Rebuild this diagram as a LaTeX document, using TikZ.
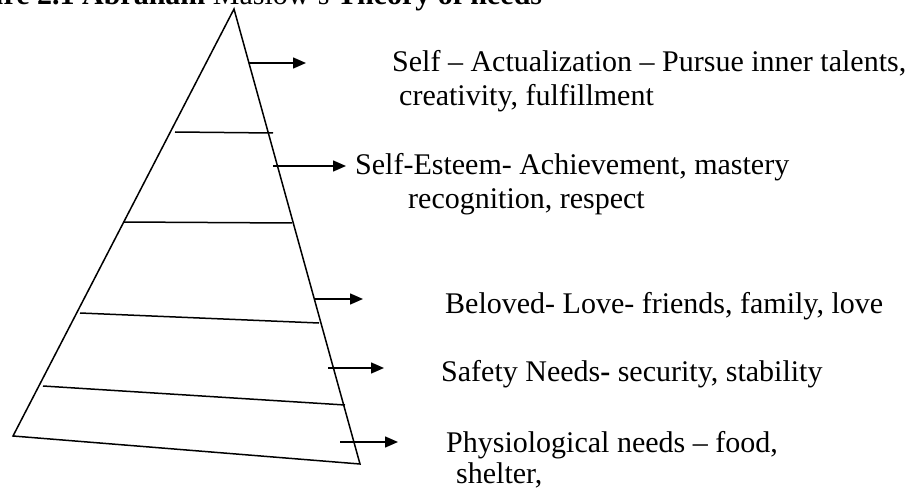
\documentclass[tikz,border=0pt]{standalone}
\usepackage{fontspec}
\setmainfont{Liberation Serif}
\usetikzlibrary{arrows.meta}

\begin{document}
\begin{tikzpicture}[x=1pt, y=-1pt,
	edge/.style={line width=1.5pt},
	pointer/.style={line width=1.5pt, -{Triangle[length=13pt,width=11pt]}},
	need/.style={anchor=base west, inner sep=0pt, font=\fontsize{30}{34}\selectfont}
]
	\useasboundingbox (0,0) rectangle (913,489);

	% Title (cut off at the top)
	\node[need] (title) at (-55,5) {\textbf{Figure 2.1 Abraham} Maslow's \textbf{Theory of needs}};

	% Pyramid
	\coordinate (apex) at (234,9);
	\coordinate (bl) at (13,436);
	\coordinate (br) at (360,464);
	\draw[edge] (bl) -- (apex) -- (br) -- cycle;

	% Tiers
	\coordinate (t1l) at (175,132);  \coordinate (t1r) at (273,133);
	\coordinate (t2l) at (123,222);  \coordinate (t2r) at (292,223);
	\coordinate (t3l) at (80,313);   \coordinate (t3r) at (319,323);
	\coordinate (t4l) at (43,386);   \coordinate (t4r) at (345,405);
	\foreach \i in {1,...,4}
		\draw[edge] (t\i l) -- (t\i r);

	% Arrows
	\coordinate (a1s) at (249,63);   \coordinate (a1e) at (306,63);
	\coordinate (a2s) at (273,166);  \coordinate (a2e) at (346,166);
	\coordinate (a3s) at (315,299);  \coordinate (a3e) at (363,299);
	\coordinate (a4s) at (328,368);  \coordinate (a4e) at (384,368);
	\coordinate (a5s) at (340,442);  \coordinate (a5e) at (398,442);
	\foreach \i in {1,...,5}
		\draw[pointer] (a\i s) -- (a\i e);

	% Labels
	\node[need] (selfact) at (392,72) {Self -- Actualization -- Pursue inner talents,};
	\node[need] (selfact2) at (399,106) {creativity, fulfillment};
	\node[need] (esteem) at (355,175) {Self-Esteem- Achievement, mastery};
	\node[need] (esteem2) at (408,209) {recognition, respect};
	\node[need] (love) at (445,313) {Beloved- Love- friends, family, love};
	\node[need] (safety) at (441,381) {Safety Needs\textbf{-} security, stability};
	\node[need] (physio) at (446,452) {Physiological needs -- food,};
	\node[need] (physio2) at (456,483) {shelter,};

\end{tikzpicture}
\end{document}
